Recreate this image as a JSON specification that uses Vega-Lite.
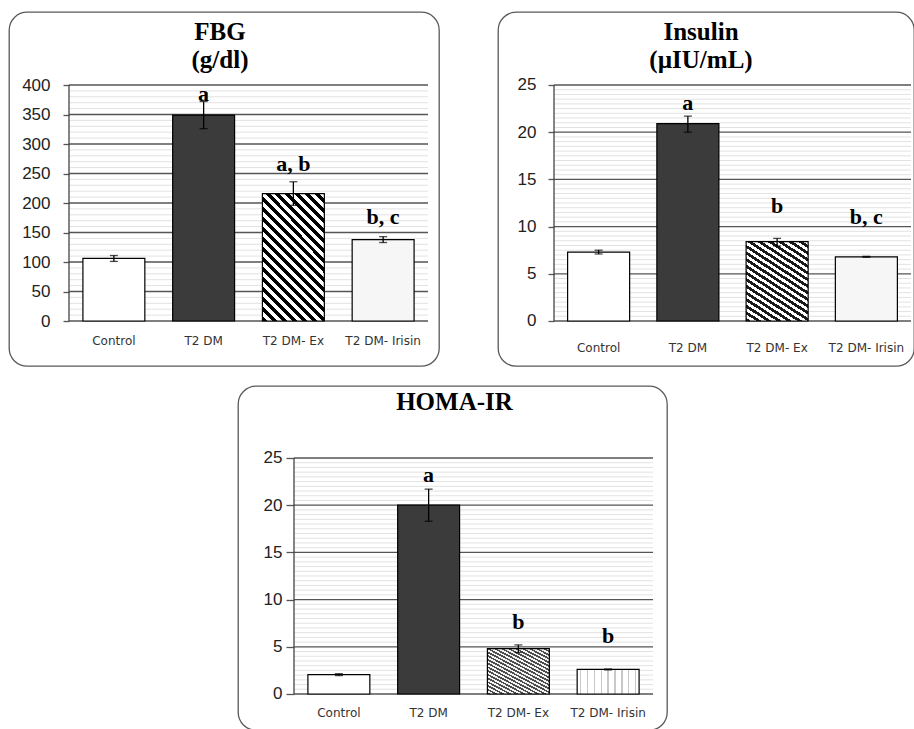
{
  "$schema": "https://vega.github.io/schema/vega-lite/v6.json",
  "padding": {"left": 8, "top": 11, "right": 0, "bottom": 0},
  "background": "white",
  "config": {
    "view": {"stroke": null},
    "title": {"font": "Liberation Serif", "fontSize": 25, "fontWeight": "bold", "color": "#000", "anchor": "middle", "lineHeight": 28, "frame": "group"}
  },
  "datasets": {
    "bars": [
      {"panel": "FBG", "group": "Control", "mean": 106, "lo": 101, "hi": 111},
      {"panel": "FBG", "group": "T2 DM", "mean": 349, "lo": 326, "hi": 372, "sig": "a", "sigAt": 373},
      {"panel": "FBG", "group": "T2 DM- Ex", "mean": 216, "lo": 196, "hi": 236, "sig": "a, b", "sigAt": 254},
      {"panel": "FBG", "group": "T2 DM- Irisin", "mean": 138, "lo": 133, "hi": 143, "sig": "b, c", "sigAt": 164},
      {"panel": "Insulin", "group": "Control", "mean": 7.3, "lo": 7.1, "hi": 7.5},
      {"panel": "Insulin", "group": "T2 DM", "mean": 20.9, "lo": 20.0, "hi": 21.7, "sig": "a", "sigAt": 22.4},
      {"panel": "Insulin", "group": "T2 DM- Ex", "mean": 8.4, "lo": 7.95, "hi": 8.75, "sig": "b", "sigAt": 11.4},
      {"panel": "Insulin", "group": "T2 DM- Irisin", "mean": 6.8, "lo": 6.75, "hi": 6.85, "sig": "b, c", "sigAt": 10.25},
      {"panel": "HOMA-IR", "group": "Control", "mean": 2.05, "lo": 1.95, "hi": 2.15},
      {"panel": "HOMA-IR", "group": "T2 DM", "mean": 20.0, "lo": 18.3, "hi": 21.7, "sig": "a", "sigAt": 22.5},
      {"panel": "HOMA-IR", "group": "T2 DM- Ex", "mean": 4.8, "lo": 4.4, "hi": 5.2, "sig": "b", "sigAt": 6.9},
      {"panel": "HOMA-IR", "group": "T2 DM- Irisin", "mean": 2.6, "lo": 2.55, "hi": 2.65, "sig": "b", "sigAt": 5.35}
    ],
    "grid": [
      {"set": "fbg", "v": 0}, {"set": "fbg", "v": 10}, {"set": "fbg", "v": 20}, {"set": "fbg", "v": 30}, {"set": "fbg", "v": 40},
      {"set": "fbg", "v": 50}, {"set": "fbg", "v": 60}, {"set": "fbg", "v": 70}, {"set": "fbg", "v": 80}, {"set": "fbg", "v": 90},
      {"set": "fbg", "v": 100}, {"set": "fbg", "v": 110}, {"set": "fbg", "v": 120}, {"set": "fbg", "v": 130}, {"set": "fbg", "v": 140},
      {"set": "fbg", "v": 150}, {"set": "fbg", "v": 160}, {"set": "fbg", "v": 170}, {"set": "fbg", "v": 180}, {"set": "fbg", "v": 190},
      {"set": "fbg", "v": 200}, {"set": "fbg", "v": 210}, {"set": "fbg", "v": 220}, {"set": "fbg", "v": 230}, {"set": "fbg", "v": 240},
      {"set": "fbg", "v": 250}, {"set": "fbg", "v": 260}, {"set": "fbg", "v": 270}, {"set": "fbg", "v": 280}, {"set": "fbg", "v": 290},
      {"set": "fbg", "v": 300}, {"set": "fbg", "v": 310}, {"set": "fbg", "v": 320}, {"set": "fbg", "v": 330}, {"set": "fbg", "v": 340},
      {"set": "fbg", "v": 350}, {"set": "fbg", "v": 360}, {"set": "fbg", "v": 370}, {"set": "fbg", "v": 380}, {"set": "fbg", "v": 390},
      {"set": "fbg", "v": 400},
      {"set": "u25", "v": 0}, {"set": "u25", "v": 0.5}, {"set": "u25", "v": 1}, {"set": "u25", "v": 1.5}, {"set": "u25", "v": 2},
      {"set": "u25", "v": 2.5}, {"set": "u25", "v": 3}, {"set": "u25", "v": 3.5}, {"set": "u25", "v": 4}, {"set": "u25", "v": 4.5},
      {"set": "u25", "v": 5}, {"set": "u25", "v": 5.5}, {"set": "u25", "v": 6}, {"set": "u25", "v": 6.5}, {"set": "u25", "v": 7},
      {"set": "u25", "v": 7.5}, {"set": "u25", "v": 8}, {"set": "u25", "v": 8.5}, {"set": "u25", "v": 9}, {"set": "u25", "v": 9.5},
      {"set": "u25", "v": 10}, {"set": "u25", "v": 10.5}, {"set": "u25", "v": 11}, {"set": "u25", "v": 11.5}, {"set": "u25", "v": 12},
      {"set": "u25", "v": 12.5}, {"set": "u25", "v": 13}, {"set": "u25", "v": 13.5}, {"set": "u25", "v": 14}, {"set": "u25", "v": 14.5},
      {"set": "u25", "v": 15}, {"set": "u25", "v": 15.5}, {"set": "u25", "v": 16}, {"set": "u25", "v": 16.5}, {"set": "u25", "v": 17},
      {"set": "u25", "v": 17.5}, {"set": "u25", "v": 18}, {"set": "u25", "v": 18.5}, {"set": "u25", "v": 19}, {"set": "u25", "v": 19.5},
      {"set": "u25", "v": 20}, {"set": "u25", "v": 20.5}, {"set": "u25", "v": 21}, {"set": "u25", "v": 21.5}, {"set": "u25", "v": 22},
      {"set": "u25", "v": 22.5}, {"set": "u25", "v": 23}, {"set": "u25", "v": 23.5}, {"set": "u25", "v": 24}, {"set": "u25", "v": 24.5},
      {"set": "u25", "v": 25}
    ]
  },
  "vconcat": [
    {
      "hconcat": [
        {
          "width": 430, "height": 354,
          "view": {"stroke": "#595959", "strokeWidth": 1.3, "cornerRadius": 18, "fill": "white"},
          "title": {"text": ["FBG", "(g/dl)"], "offset": -61, "baseline": "top", "dx": -4},
          "encoding": {
            "x": {"field": "group", "type": "nominal",
              "scale": {"type": "band", "domain": ["Control", "T2 DM", "T2 DM- Ex", "T2 DM- Irisin"], "paddingInner": 0, "paddingOuter": 0.39554, "align": 0.84507},
              "axis": {"orient": "bottom", "offset": -26, "title": null, "domain": false, "ticks": false, "grid": false, "bandPosition": 0.5, "labelAlign": "center", "labelPadding": 0, "labelBaseline": "middle", "labelAngle": 0, "labelFont": "DejaVu Sans", "labelFontSize": 12, "labelColor": "#333"}},
            "y": {"field": "mean", "type": "quantitative",
              "scale": {"domain": [-76.271, 523.729], "nice": false, "zero": false},
              "axis": {"values": [0, 50, 100, 150, 200, 250, 300, 350, 400], "offset": -60, "title": null, "domain": false, "grid": false, "tickSize": 6, "tickColor": "#555", "tickWidth": 1.3, "labelPadding": 13, "labelFont": "Liberation Sans", "labelFontSize": 17, "labelColor": "#222"}}
          },
          "layer": [
            {"data": {"name": "grid"}, "transform": [{"filter": "datum.set == 'fbg' && datum.v % 50 != 0"}],
              "mark": {"type": "rule", "color": "#e2e2e2", "strokeWidth": 1},
              "encoding": {"x": {"datum": "Control", "bandPosition": 0, "axis": {"title": null, "bandPosition": 0.5, "labelAlign": "center"}}, "x2": {"datum": "T2 DM- Irisin", "bandPosition": 1}, "y": {"field": "v", "type": "quantitative", "axis": {"title": null}}}},
            {"data": {"name": "grid"}, "transform": [{"filter": "datum.set == 'fbg' && datum.v % 50 == 0"}],
              "mark": {"type": "rule", "color": "#555", "strokeWidth": 1.3},
              "encoding": {"x": {"datum": "Control", "bandPosition": 0, "axis": {"title": null, "bandPosition": 0.5, "labelAlign": "center"}}, "x2": {"datum": "T2 DM- Irisin", "bandPosition": 1}, "y": {"field": "v", "type": "quantitative", "axis": {"title": null}}}},
            {"data": {"name": "bars"}, "transform": [{"filter": "datum.panel == 'FBG' && datum.group == 'Control'"}],
              "mark": {"type": "rule", "color": "#444", "strokeWidth": 1.3},
              "encoding": {"x": {"datum": "Control", "bandPosition": 0, "axis": {"title": null, "bandPosition": 0.5, "labelAlign": "center"}}, "y": {"datum": 0, "type": "quantitative", "axis": {"title": null}}, "y2": {"datum": 400}}},
            {"data": {"name": "bars"}, "transform": [{"filter": "datum.panel == 'FBG' && datum.group == 'Control'"}],
              "mark": {"type": "bar", "fill": "white", "stroke": "black", "strokeWidth": 1.2, "width": {"band": 0.69}}},
            {"data": {"name": "bars"}, "transform": [{"filter": "datum.panel == 'FBG' && datum.group == 'T2 DM'"}],
              "mark": {"type": "bar", "fill": "#3b3b3b", "stroke": "black", "strokeWidth": 1.2, "width": {"band": 0.69}}},
            {"data": {"name": "bars"}, "transform": [{"filter": "datum.panel == 'FBG' && datum.group == 'T2 DM- Ex'"}],
              "mark": {"type": "bar", "stroke": "black", "strokeWidth": 1.2, "width": {"band": 0.69},
                "fill": {"gradient": "linear", "x1": 0, "y1": 1, "x2": 0.585, "y2": -0.202, "stops": [
                  {"offset": 0, "color": "#000"}, {"offset": 0.0263, "color": "#000"}, {"offset": 0.0263, "color": "#fff"}, {"offset": 0.0526, "color": "#fff"},
                  {"offset": 0.0526, "color": "#000"}, {"offset": 0.0789, "color": "#000"}, {"offset": 0.0789, "color": "#fff"}, {"offset": 0.1053, "color": "#fff"},
                  {"offset": 0.1053, "color": "#000"}, {"offset": 0.1316, "color": "#000"}, {"offset": 0.1316, "color": "#fff"}, {"offset": 0.1579, "color": "#fff"},
                  {"offset": 0.1579, "color": "#000"}, {"offset": 0.1842, "color": "#000"}, {"offset": 0.1842, "color": "#fff"}, {"offset": 0.2105, "color": "#fff"},
                  {"offset": 0.2105, "color": "#000"}, {"offset": 0.2368, "color": "#000"}, {"offset": 0.2368, "color": "#fff"}, {"offset": 0.2632, "color": "#fff"},
                  {"offset": 0.2632, "color": "#000"}, {"offset": 0.2895, "color": "#000"}, {"offset": 0.2895, "color": "#fff"}, {"offset": 0.3158, "color": "#fff"},
                  {"offset": 0.3158, "color": "#000"}, {"offset": 0.3421, "color": "#000"}, {"offset": 0.3421, "color": "#fff"}, {"offset": 0.3684, "color": "#fff"},
                  {"offset": 0.3684, "color": "#000"}, {"offset": 0.3947, "color": "#000"}, {"offset": 0.3947, "color": "#fff"}, {"offset": 0.4211, "color": "#fff"},
                  {"offset": 0.4211, "color": "#000"}, {"offset": 0.4474, "color": "#000"}, {"offset": 0.4474, "color": "#fff"}, {"offset": 0.4737, "color": "#fff"},
                  {"offset": 0.4737, "color": "#000"}, {"offset": 0.5, "color": "#000"}, {"offset": 0.5, "color": "#fff"}, {"offset": 0.5263, "color": "#fff"},
                  {"offset": 0.5263, "color": "#000"}, {"offset": 0.5526, "color": "#000"}, {"offset": 0.5526, "color": "#fff"}, {"offset": 0.5789, "color": "#fff"},
                  {"offset": 0.5789, "color": "#000"}, {"offset": 0.6053, "color": "#000"}, {"offset": 0.6053, "color": "#fff"}, {"offset": 0.6316, "color": "#fff"},
                  {"offset": 0.6316, "color": "#000"}, {"offset": 0.6579, "color": "#000"}, {"offset": 0.6579, "color": "#fff"}, {"offset": 0.6842, "color": "#fff"},
                  {"offset": 0.6842, "color": "#000"}, {"offset": 0.7105, "color": "#000"}, {"offset": 0.7105, "color": "#fff"}, {"offset": 0.7368, "color": "#fff"},
                  {"offset": 0.7368, "color": "#000"}, {"offset": 0.7632, "color": "#000"}, {"offset": 0.7632, "color": "#fff"}, {"offset": 0.7895, "color": "#fff"},
                  {"offset": 0.7895, "color": "#000"}, {"offset": 0.8158, "color": "#000"}, {"offset": 0.8158, "color": "#fff"}, {"offset": 0.8421, "color": "#fff"},
                  {"offset": 0.8421, "color": "#000"}, {"offset": 0.8684, "color": "#000"}, {"offset": 0.8684, "color": "#fff"}, {"offset": 0.8947, "color": "#fff"},
                  {"offset": 0.8947, "color": "#000"}, {"offset": 0.9211, "color": "#000"}, {"offset": 0.9211, "color": "#fff"}, {"offset": 0.9474, "color": "#fff"},
                  {"offset": 0.9474, "color": "#000"}, {"offset": 0.9737, "color": "#000"}, {"offset": 0.9737, "color": "#fff"}, {"offset": 1, "color": "#fff"}
                ]}}},
            {"data": {"name": "bars"}, "transform": [{"filter": "datum.panel == 'FBG' && datum.group == 'T2 DM- Irisin'"}],
              "mark": {"type": "bar", "fill": "#f6f6f6", "stroke": "black", "strokeWidth": 1.2, "width": {"band": 0.69}}},
            {"data": {"name": "bars"}, "transform": [{"filter": "datum.panel == 'FBG'"}],
              "mark": {"type": "errorbar", "color": "black", "thickness": 1.3, "ticks": {"size": 8, "thickness": 1.3}},
              "encoding": {"y": {"field": "lo", "type": "quantitative", "axis": {"title": null}}, "y2": {"field": "hi"}}},
            {"data": {"name": "bars"}, "transform": [{"filter": "datum.panel == 'FBG' && datum.sig != null"}],
              "mark": {"type": "text", "font": "Liberation Serif", "fontWeight": "bold", "fontSize": 22, "baseline": "alphabetic", "align": "center", "color": "#000"},
              "encoding": {"y": {"field": "sigAt", "type": "quantitative", "axis": {"title": null}}, "text": {"field": "sig"}}}
          ]
        },
        {
          "width": 416, "height": 354,
          "view": {"stroke": "#595959", "strokeWidth": 1.3, "cornerRadius": 18, "fill": "white"},
          "title": {"text": ["Insulin", "(µIU/mL)"], "offset": -61, "baseline": "top", "dx": -5},
          "encoding": {
            "x": {"field": "group", "type": "nominal",
              "scale": {"type": "band", "domain": ["Control", "T2 DM", "T2 DM- Ex", "T2 DM- Irisin"], "paddingInner": 0, "paddingOuter": 0.33053, "align": 0.94915},
              "axis": {"orient": "bottom", "offset": -19, "title": null, "domain": false, "ticks": false, "grid": false, "bandPosition": 0.5, "labelAlign": "center", "labelPadding": 0, "labelBaseline": "middle", "labelAngle": 0, "labelFont": "DejaVu Sans", "labelFontSize": 12, "labelColor": "#333"}},
            "y": {"field": "mean", "type": "quantitative",
              "scale": {"domain": [-4.767, 32.733], "nice": false, "zero": false},
              "axis": {"values": [0, 5, 10, 15, 20, 25], "offset": -56, "title": null, "domain": false, "grid": false, "tickSize": 6, "tickColor": "#555", "tickWidth": 1.3, "labelPadding": 12, "labelFont": "Liberation Sans", "labelFontSize": 17, "labelColor": "#222"}}
          },
          "layer": [
            {"data": {"name": "grid"}, "transform": [{"filter": "datum.set == 'u25' && datum.v % 5 != 0"}],
              "mark": {"type": "rule", "color": "#e2e2e2", "strokeWidth": 1},
              "encoding": {"x": {"datum": "Control", "bandPosition": 0, "axis": {"title": null, "bandPosition": 0.5, "labelAlign": "center"}}, "x2": {"datum": "T2 DM- Irisin", "bandPosition": 1}, "y": {"field": "v", "type": "quantitative", "axis": {"title": null}}}},
            {"data": {"name": "grid"}, "transform": [{"filter": "datum.set == 'u25' && datum.v % 5 == 0"}],
              "mark": {"type": "rule", "color": "#555", "strokeWidth": 1.3},
              "encoding": {"x": {"datum": "Control", "bandPosition": 0, "axis": {"title": null, "bandPosition": 0.5, "labelAlign": "center"}}, "x2": {"datum": "T2 DM- Irisin", "bandPosition": 1}, "y": {"field": "v", "type": "quantitative", "axis": {"title": null}}}},
            {"data": {"name": "bars"}, "transform": [{"filter": "datum.panel == 'Insulin' && datum.group == 'Control'"}],
              "mark": {"type": "rule", "color": "#444", "strokeWidth": 1.3},
              "encoding": {"x": {"datum": "Control", "bandPosition": 0, "axis": {"title": null, "bandPosition": 0.5, "labelAlign": "center"}}, "y": {"datum": 0, "type": "quantitative", "axis": {"title": null}}, "y2": {"datum": 25}}},
            {"data": {"name": "bars"}, "transform": [{"filter": "datum.panel == 'Insulin' && datum.group == 'Control'"}],
              "mark": {"type": "bar", "fill": "white", "stroke": "black", "strokeWidth": 1.2, "width": {"band": 0.695}}},
            {"data": {"name": "bars"}, "transform": [{"filter": "datum.panel == 'Insulin' && datum.group == 'T2 DM'"}],
              "mark": {"type": "bar", "fill": "#3b3b3b", "stroke": "black", "strokeWidth": 1.2, "width": {"band": 0.695}}},
            {"data": {"name": "bars"}, "transform": [{"filter": "datum.panel == 'Insulin' && datum.group == 'T2 DM- Ex'"}],
              "mark": {"type": "bar", "stroke": "black", "strokeWidth": 1.2, "width": {"band": 0.695},
                "fill": {"gradient": "linear", "x1": 0, "y1": 1, "x2": 0.6086, "y2": -0.1988, "stops": [
                  {"offset": 0, "color": "#1a1a1a"}, {"offset": 0.0278, "color": "#1a1a1a"}, {"offset": 0.0278, "color": "#fff"}, {"offset": 0.0556, "color": "#fff"},
                  {"offset": 0.0556, "color": "#1a1a1a"}, {"offset": 0.0833, "color": "#1a1a1a"}, {"offset": 0.0833, "color": "#fff"}, {"offset": 0.1111, "color": "#fff"},
                  {"offset": 0.1111, "color": "#1a1a1a"}, {"offset": 0.1389, "color": "#1a1a1a"}, {"offset": 0.1389, "color": "#fff"}, {"offset": 0.1667, "color": "#fff"},
                  {"offset": 0.1667, "color": "#1a1a1a"}, {"offset": 0.1944, "color": "#1a1a1a"}, {"offset": 0.1944, "color": "#fff"}, {"offset": 0.2222, "color": "#fff"},
                  {"offset": 0.2222, "color": "#1a1a1a"}, {"offset": 0.25, "color": "#1a1a1a"}, {"offset": 0.25, "color": "#fff"}, {"offset": 0.2778, "color": "#fff"},
                  {"offset": 0.2778, "color": "#1a1a1a"}, {"offset": 0.3056, "color": "#1a1a1a"}, {"offset": 0.3056, "color": "#fff"}, {"offset": 0.3333, "color": "#fff"},
                  {"offset": 0.3333, "color": "#1a1a1a"}, {"offset": 0.3611, "color": "#1a1a1a"}, {"offset": 0.3611, "color": "#fff"}, {"offset": 0.3889, "color": "#fff"},
                  {"offset": 0.3889, "color": "#1a1a1a"}, {"offset": 0.4167, "color": "#1a1a1a"}, {"offset": 0.4167, "color": "#fff"}, {"offset": 0.4444, "color": "#fff"},
                  {"offset": 0.4444, "color": "#1a1a1a"}, {"offset": 0.4722, "color": "#1a1a1a"}, {"offset": 0.4722, "color": "#fff"}, {"offset": 0.5, "color": "#fff"},
                  {"offset": 0.5, "color": "#1a1a1a"}, {"offset": 0.5278, "color": "#1a1a1a"}, {"offset": 0.5278, "color": "#fff"}, {"offset": 0.5556, "color": "#fff"},
                  {"offset": 0.5556, "color": "#1a1a1a"}, {"offset": 0.5833, "color": "#1a1a1a"}, {"offset": 0.5833, "color": "#fff"}, {"offset": 0.6111, "color": "#fff"},
                  {"offset": 0.6111, "color": "#1a1a1a"}, {"offset": 0.6389, "color": "#1a1a1a"}, {"offset": 0.6389, "color": "#fff"}, {"offset": 0.6667, "color": "#fff"},
                  {"offset": 0.6667, "color": "#1a1a1a"}, {"offset": 0.6944, "color": "#1a1a1a"}, {"offset": 0.6944, "color": "#fff"}, {"offset": 0.7222, "color": "#fff"},
                  {"offset": 0.7222, "color": "#1a1a1a"}, {"offset": 0.75, "color": "#1a1a1a"}, {"offset": 0.75, "color": "#fff"}, {"offset": 0.7778, "color": "#fff"},
                  {"offset": 0.7778, "color": "#1a1a1a"}, {"offset": 0.8056, "color": "#1a1a1a"}, {"offset": 0.8056, "color": "#fff"}, {"offset": 0.8333, "color": "#fff"},
                  {"offset": 0.8333, "color": "#1a1a1a"}, {"offset": 0.8611, "color": "#1a1a1a"}, {"offset": 0.8611, "color": "#fff"}, {"offset": 0.8889, "color": "#fff"},
                  {"offset": 0.8889, "color": "#1a1a1a"}, {"offset": 0.9167, "color": "#1a1a1a"}, {"offset": 0.9167, "color": "#fff"}, {"offset": 0.9444, "color": "#fff"},
                  {"offset": 0.9444, "color": "#1a1a1a"}, {"offset": 0.9722, "color": "#1a1a1a"}, {"offset": 0.9722, "color": "#fff"}, {"offset": 1, "color": "#fff"}
                ]}}},
            {"data": {"name": "bars"}, "transform": [{"filter": "datum.panel == 'Insulin' && datum.group == 'T2 DM- Irisin'"}],
              "mark": {"type": "bar", "fill": "#f6f6f6", "stroke": "black", "strokeWidth": 1.2, "width": {"band": 0.695}}},
            {"data": {"name": "bars"}, "transform": [{"filter": "datum.panel == 'Insulin'"}],
              "mark": {"type": "errorbar", "color": "black", "thickness": 1.3, "ticks": {"size": 8, "thickness": 1.3}},
              "encoding": {"y": {"field": "lo", "type": "quantitative", "axis": {"title": null}}, "y2": {"field": "hi"}}},
            {"data": {"name": "bars"}, "transform": [{"filter": "datum.panel == 'Insulin' && datum.sig != null"}],
              "mark": {"type": "text", "font": "Liberation Serif", "fontWeight": "bold", "fontSize": 22, "baseline": "alphabetic", "align": "center", "color": "#000"},
              "encoding": {"y": {"field": "sigAt", "type": "quantitative", "axis": {"title": null}}, "text": {"field": "sig"}}}
          ]
        }
      ],
      "spacing": 57
    },
    {
      "hconcat": [
        {"width": 208, "height": 10, "data": {"values": []}, "mark": {"type": "point", "opacity": 0}},
        {
          "width": 429, "height": 344,
          "view": {"stroke": "#595959", "strokeWidth": 1.3, "cornerRadius": 18, "fill": "white"},
          "title": {"text": "HOMA-IR", "offset": -29, "baseline": "top", "dx": 2},
          "encoding": {
            "x": {"field": "group", "type": "nominal",
              "scale": {"type": "band", "domain": ["Control", "T2 DM", "T2 DM- Ex", "T2 DM- Irisin"], "paddingInner": 0, "paddingOuter": 0.38997, "align": 0.8},
              "axis": {"orient": "bottom", "offset": -18, "title": null, "domain": false, "ticks": false, "grid": false, "bandPosition": 0.5, "labelAlign": "center", "labelPadding": 0, "labelBaseline": "middle", "labelAngle": 0, "labelFont": "DejaVu Sans", "labelFontSize": 12, "labelColor": "#333"}},
            "y": {"field": "mean", "type": "quantitative",
              "scale": {"domain": [-3.814, 32.627], "nice": false, "zero": false},
              "axis": {"values": [0, 5, 10, 15, 20, 25], "offset": -56, "title": null, "domain": false, "grid": false, "tickSize": 8, "tickColor": "#555", "tickWidth": 1.3, "labelPadding": 4, "labelFont": "Liberation Sans", "labelFontSize": 17, "labelColor": "#222"}}
          },
          "layer": [
            {"data": {"name": "grid"}, "transform": [{"filter": "datum.set == 'u25' && datum.v % 5 != 0"}],
              "mark": {"type": "rule", "color": "#e2e2e2", "strokeWidth": 1},
              "encoding": {"x": {"datum": "Control", "bandPosition": 0, "axis": {"title": null, "bandPosition": 0.5, "labelAlign": "center"}}, "x2": {"datum": "T2 DM- Irisin", "bandPosition": 1}, "y": {"field": "v", "type": "quantitative", "axis": {"title": null}}}},
            {"data": {"name": "grid"}, "transform": [{"filter": "datum.set == 'u25' && datum.v % 5 == 0"}],
              "mark": {"type": "rule", "color": "#555", "strokeWidth": 1.3},
              "encoding": {"x": {"datum": "Control", "bandPosition": 0, "axis": {"title": null, "bandPosition": 0.5, "labelAlign": "center"}}, "x2": {"datum": "T2 DM- Irisin", "bandPosition": 1}, "y": {"field": "v", "type": "quantitative", "axis": {"title": null}}}},
            {"data": {"name": "bars"}, "transform": [{"filter": "datum.panel == 'HOMA-IR' && datum.group == 'Control'"}],
              "mark": {"type": "rule", "color": "#444", "strokeWidth": 1.3},
              "encoding": {"x": {"datum": "Control", "bandPosition": 0, "axis": {"title": null, "bandPosition": 0.5, "labelAlign": "center"}}, "y": {"datum": 0, "type": "quantitative", "axis": {"title": null}}, "y2": {"datum": 25}}},
            {"data": {"name": "bars"}, "transform": [{"filter": "datum.panel == 'HOMA-IR' && datum.group == 'Control'"}],
              "mark": {"type": "bar", "fill": "white", "stroke": "black", "strokeWidth": 1.2, "width": {"band": 0.69}}},
            {"data": {"name": "bars"}, "transform": [{"filter": "datum.panel == 'HOMA-IR' && datum.group == 'T2 DM'"}],
              "mark": {"type": "bar", "fill": "#3b3b3b", "stroke": "black", "strokeWidth": 1.2, "width": {"band": 0.69}}},
            {"data": {"name": "bars"}, "transform": [{"filter": "datum.panel == 'HOMA-IR' && datum.group == 'T2 DM- Ex'"}],
              "mark": {"type": "bar", "stroke": "black", "strokeWidth": 1.2, "width": {"band": 0.69},
                "fill": {"gradient": "linear", "x1": 0, "y1": 1, "x2": 0.8221, "y2": -0.1295, "stops": [
                  {"offset": 0, "color": "#4d4d4d"}, {"offset": 0.0238, "color": "#4d4d4d"}, {"offset": 0.0238, "color": "#f2f2f2"}, {"offset": 0.0476, "color": "#f2f2f2"},
                  {"offset": 0.0476, "color": "#4d4d4d"}, {"offset": 0.0714, "color": "#4d4d4d"}, {"offset": 0.0714, "color": "#f2f2f2"}, {"offset": 0.0952, "color": "#f2f2f2"},
                  {"offset": 0.0952, "color": "#4d4d4d"}, {"offset": 0.119, "color": "#4d4d4d"}, {"offset": 0.119, "color": "#f2f2f2"}, {"offset": 0.1429, "color": "#f2f2f2"},
                  {"offset": 0.1429, "color": "#4d4d4d"}, {"offset": 0.1667, "color": "#4d4d4d"}, {"offset": 0.1667, "color": "#f2f2f2"}, {"offset": 0.1905, "color": "#f2f2f2"},
                  {"offset": 0.1905, "color": "#4d4d4d"}, {"offset": 0.2143, "color": "#4d4d4d"}, {"offset": 0.2143, "color": "#f2f2f2"}, {"offset": 0.2381, "color": "#f2f2f2"},
                  {"offset": 0.2381, "color": "#4d4d4d"}, {"offset": 0.2619, "color": "#4d4d4d"}, {"offset": 0.2619, "color": "#f2f2f2"}, {"offset": 0.2857, "color": "#f2f2f2"},
                  {"offset": 0.2857, "color": "#4d4d4d"}, {"offset": 0.3095, "color": "#4d4d4d"}, {"offset": 0.3095, "color": "#f2f2f2"}, {"offset": 0.3333, "color": "#f2f2f2"},
                  {"offset": 0.3333, "color": "#4d4d4d"}, {"offset": 0.3571, "color": "#4d4d4d"}, {"offset": 0.3571, "color": "#f2f2f2"}, {"offset": 0.381, "color": "#f2f2f2"},
                  {"offset": 0.381, "color": "#4d4d4d"}, {"offset": 0.4048, "color": "#4d4d4d"}, {"offset": 0.4048, "color": "#f2f2f2"}, {"offset": 0.4286, "color": "#f2f2f2"},
                  {"offset": 0.4286, "color": "#4d4d4d"}, {"offset": 0.4524, "color": "#4d4d4d"}, {"offset": 0.4524, "color": "#f2f2f2"}, {"offset": 0.4762, "color": "#f2f2f2"},
                  {"offset": 0.4762, "color": "#4d4d4d"}, {"offset": 0.5, "color": "#4d4d4d"}, {"offset": 0.5, "color": "#f2f2f2"}, {"offset": 0.5238, "color": "#f2f2f2"},
                  {"offset": 0.5238, "color": "#4d4d4d"}, {"offset": 0.5476, "color": "#4d4d4d"}, {"offset": 0.5476, "color": "#f2f2f2"}, {"offset": 0.5714, "color": "#f2f2f2"},
                  {"offset": 0.5714, "color": "#4d4d4d"}, {"offset": 0.5952, "color": "#4d4d4d"}, {"offset": 0.5952, "color": "#f2f2f2"}, {"offset": 0.619, "color": "#f2f2f2"},
                  {"offset": 0.619, "color": "#4d4d4d"}, {"offset": 0.6429, "color": "#4d4d4d"}, {"offset": 0.6429, "color": "#f2f2f2"}, {"offset": 0.6667, "color": "#f2f2f2"},
                  {"offset": 0.6667, "color": "#4d4d4d"}, {"offset": 0.6905, "color": "#4d4d4d"}, {"offset": 0.6905, "color": "#f2f2f2"}, {"offset": 0.7143, "color": "#f2f2f2"},
                  {"offset": 0.7143, "color": "#4d4d4d"}, {"offset": 0.7381, "color": "#4d4d4d"}, {"offset": 0.7381, "color": "#f2f2f2"}, {"offset": 0.7619, "color": "#f2f2f2"},
                  {"offset": 0.7619, "color": "#4d4d4d"}, {"offset": 0.7857, "color": "#4d4d4d"}, {"offset": 0.7857, "color": "#f2f2f2"}, {"offset": 0.8095, "color": "#f2f2f2"},
                  {"offset": 0.8095, "color": "#4d4d4d"}, {"offset": 0.8333, "color": "#4d4d4d"}, {"offset": 0.8333, "color": "#f2f2f2"}, {"offset": 0.8571, "color": "#f2f2f2"},
                  {"offset": 0.8571, "color": "#4d4d4d"}, {"offset": 0.881, "color": "#4d4d4d"}, {"offset": 0.881, "color": "#f2f2f2"}, {"offset": 0.9048, "color": "#f2f2f2"},
                  {"offset": 0.9048, "color": "#4d4d4d"}, {"offset": 0.9286, "color": "#4d4d4d"}, {"offset": 0.9286, "color": "#f2f2f2"}, {"offset": 0.9524, "color": "#f2f2f2"},
                  {"offset": 0.9524, "color": "#4d4d4d"}, {"offset": 0.9762, "color": "#4d4d4d"}, {"offset": 0.9762, "color": "#f2f2f2"}, {"offset": 1, "color": "#f2f2f2"}
                ]}}},
            {"data": {"name": "bars"}, "transform": [{"filter": "datum.panel == 'HOMA-IR' && datum.group == 'T2 DM- Irisin'"}],
              "mark": {"type": "bar", "stroke": "black", "strokeWidth": 1.2, "width": {"band": 0.69},
                "fill": {"gradient": "linear", "x1": 0, "y1": 0, "x2": 1, "y2": 0, "stops": [
                  {"offset": 0, "color": "#fff"}, {"offset": 0.0444, "color": "#fff"}, {"offset": 0.0444, "color": "#c8c8c8"}, {"offset": 0.0667, "color": "#c8c8c8"}, {"offset": 0.0667, "color": "#fff"},
                  {"offset": 0.1556, "color": "#fff"}, {"offset": 0.1556, "color": "#c8c8c8"}, {"offset": 0.1778, "color": "#c8c8c8"}, {"offset": 0.1778, "color": "#fff"},
                  {"offset": 0.2667, "color": "#fff"}, {"offset": 0.2667, "color": "#c8c8c8"}, {"offset": 0.2889, "color": "#c8c8c8"}, {"offset": 0.2889, "color": "#fff"},
                  {"offset": 0.3778, "color": "#fff"}, {"offset": 0.3778, "color": "#c8c8c8"}, {"offset": 0.4, "color": "#c8c8c8"}, {"offset": 0.4, "color": "#fff"},
                  {"offset": 0.4889, "color": "#fff"}, {"offset": 0.4889, "color": "#c8c8c8"}, {"offset": 0.5111, "color": "#c8c8c8"}, {"offset": 0.5111, "color": "#fff"},
                  {"offset": 0.6, "color": "#fff"}, {"offset": 0.6, "color": "#c8c8c8"}, {"offset": 0.6222, "color": "#c8c8c8"}, {"offset": 0.6222, "color": "#fff"},
                  {"offset": 0.7111, "color": "#fff"}, {"offset": 0.7111, "color": "#c8c8c8"}, {"offset": 0.7333, "color": "#c8c8c8"}, {"offset": 0.7333, "color": "#fff"},
                  {"offset": 0.8222, "color": "#fff"}, {"offset": 0.8222, "color": "#c8c8c8"}, {"offset": 0.8444, "color": "#c8c8c8"}, {"offset": 0.8444, "color": "#fff"},
                  {"offset": 0.9333, "color": "#fff"}, {"offset": 0.9333, "color": "#c8c8c8"}, {"offset": 0.9556, "color": "#c8c8c8"}, {"offset": 0.9556, "color": "#fff"},
                  {"offset": 1, "color": "#fff"}
                ]}}},
            {"data": {"name": "bars"}, "transform": [{"filter": "datum.panel == 'HOMA-IR'"}],
              "mark": {"type": "errorbar", "color": "black", "thickness": 1.3, "ticks": {"size": 8, "thickness": 1.3}},
              "encoding": {"y": {"field": "lo", "type": "quantitative", "axis": {"title": null}}, "y2": {"field": "hi"}}},
            {"data": {"name": "bars"}, "transform": [{"filter": "datum.panel == 'HOMA-IR' && datum.sig != null"}],
              "mark": {"type": "text", "font": "Liberation Serif", "fontWeight": "bold", "fontSize": 22, "baseline": "alphabetic", "align": "center", "color": "#000"},
              "encoding": {"y": {"field": "sigAt", "type": "quantitative", "axis": {"title": null}}, "text": {"field": "sig"}}}
          ]
        }
      ],
      "spacing": 20
    }
  ],
  "spacing": 18
}
